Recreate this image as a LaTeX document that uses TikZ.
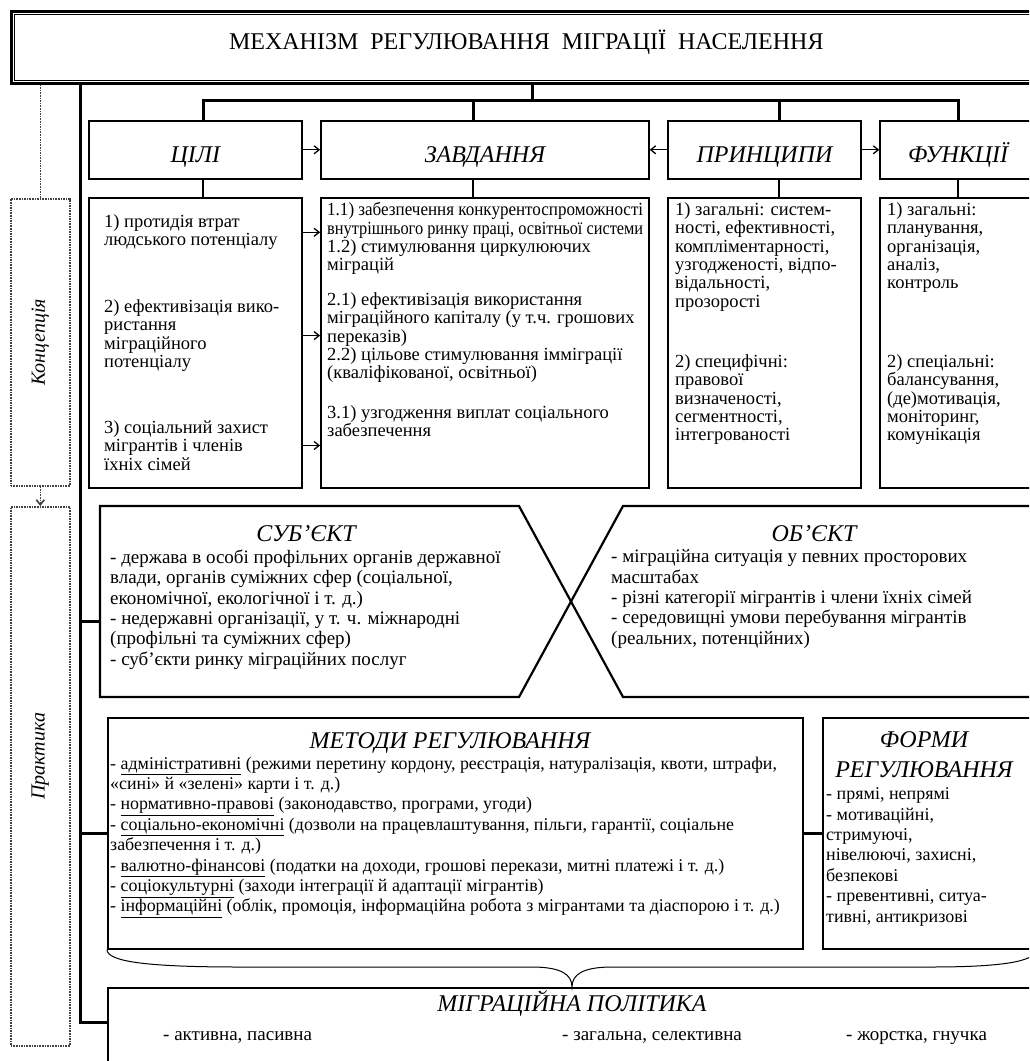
\documentclass[tikz,border=0pt]{standalone}
\usepackage{fontspec}
\setmainfont{Liberation Serif}
\usepackage{graphicx}
\usetikzlibrary{positioning,calc,arrows.meta}

\begin{document}
\begin{tikzpicture}[x=1pt, y=-1pt,
    box/.style={draw, rectangle, line width=1.6pt, inner sep=0pt, anchor=north west},
    headbox/.style={box, minimum height=58pt, font=\fontsize{24}{28}\selectfont\itshape, text height=26pt, text depth=0pt},
    listbox/.style={box, minimum height=290pt},
    itemtxt/.style={anchor=north west, inner sep=0pt, align=left, font=\fontsize{18.5}{18.3}\selectfont},
    bodytxt/.style={anchor=north west, inner sep=0pt, align=left, font=\fontsize{19}{20.4}\selectfont},
    ttl/.style={inner sep=0pt, font=\fontsize{24}{30}\selectfont\itshape},
    spine/.style={line width=3pt},
    link/.style={line width=1.6pt},
    shapeline/.style={line width=2.2pt},
    arr/.style={line width=1.3pt, -{Straight Barb[length=5pt,width=8pt]}},
    dotbox/.style={draw=black!75, densely dotted, line width=1.6pt, inner sep=0pt, anchor=north west},
    dotline/.style={draw=black!75, densely dotted, line width=1.6pt}]

\useasboundingbox (0,0) rectangle (1029,1061);
\clip (0,0) rectangle (1029,1061);

\node[box, minimum width=1030pt, minimum height=72pt, line width=2.6pt, font=\fontsize{24}{28}\selectfont, text height=17pt, text depth=13pt] (mech) at (10,10) {МЕХАНІЗМ\enskip РЕГУЛЮВАННЯ\enskip МІГРАЦІЇ\enskip НАСЕЛЕННЯ};
\draw[line width=1pt] ([xshift=4pt,yshift=4pt]mech.south west) rectangle ([xshift=-4pt,yshift=-4pt]mech.north east);

\node[headbox, minimum width=213pt] (goalshead) at (88,120) {ЦІЛІ};
\node[headbox, minimum width=328pt, right=17.5pt of goalshead] (taskhead) {ЗАВДАННЯ};
\node[headbox, minimum width=193pt, right=17.5pt of taskhead] (princhead) {ПРИНЦИПИ};
\node[headbox, minimum width=156pt, right=17.5pt of princhead] (funchead) {ФУНКЦІЇ};

\node[listbox, minimum width=213pt, below=17.5pt of goalshead] (goalsbox) {};
\node[listbox, minimum width=328pt, below=17.5pt of taskhead] (taskbox) {};
\node[listbox, minimum width=193pt, below=17.5pt of princhead] (princbox) {};
\node[listbox, minimum width=156pt, below=17.5pt of funchead] (funcbox) {};

\node[itemtxt] (goal1) at (104,214.5) {1) протидія втрат\\людського потенціалу};
\node[itemtxt] (goal2) at (104,299.5) {2) ефективізація вико-\\ристання\\міграційного\\потенціалу};
\node[itemtxt] (goal3) at (104,420.5) {3) соціальний захист\\мігрантів і членів\\їхніх сімей};

\node[itemtxt] (task1) at (327,202.5) {\resizebox{316pt}{\height}{1.1) забезпечення конкурентоспроможності}\\\resizebox{316pt}{\height}{внутрішнього ринку праці, освітньої системи}\\1.2) стимулювання циркулюючих\\міграцій};
\node[itemtxt] (task2) at (327,292.5) {2.1) ефективізація використання\\міграційного капіталу (у т.ч. грошових\\переказів)\\2.2) цільове стимулювання імміграції\\(кваліфікованої, освітньої)};
\node[itemtxt] (task3) at (327,405.5) {3.1) узгодження виплат соціального\\забезпечення};

\node[itemtxt] (princ1) at (675,202.5) {1) загальні: систем-\\ності, ефективності,\\компліментарності,\\узгодженості, відпо-\\відальності,\\прозорості};
\node[itemtxt] (princ2) at (675,354.5) {2) специфічні:\\правової\\визначеності,\\сегментності,\\інтегрованості};

\node[itemtxt] (func1) at (887,202.5) {1) загальні:\\планування,\\організація,\\аналіз,\\контроль};
\node[itemtxt] (func2) at (887,354.5) {2) спеціальні:\\балансування,\\(де)мотивація,\\моніторинг,\\комунікація};

\coordinate (branch) at (532,100);
\coordinate (b1) at (203,100);
\coordinate (b2) at (473,100);
\coordinate (b3) at (779,100);
\draw[spine] (mech.south -| branch) -- (branch);
\draw[spine] (b1 |- goalshead.north) -- (b1) -- (funchead.north |- b1) -- (funchead.north);
\draw[spine] (b2) -- (b2 |- taskhead.north);
\draw[spine] (b3) -- (b3 |- princhead.north);

\draw[link] (b1 |- goalshead.south) -- (b1 |- goalsbox.north);
\draw[link] (b2 |- taskhead.south) -- (b2 |- taskbox.north);
\draw[link] (b3 |- princhead.south) -- (b3 |- princbox.north);
\draw[link] (funchead) -- (funcbox);

\draw[arr] (goalshead) -- (taskhead);
\draw[arr] (princhead) -- (taskhead);
\draw[arr] (princhead) -- (funchead);
\foreach \g in {goal1,goal2,goal3}
    \draw[arr] (goalsbox.east |- \g) -- (taskbox.west |- \g);

\node[minimum width=419pt, minimum height=191pt, inner sep=0pt, outer sep=0pt, anchor=north west] (subj) at (100,506) {};
\node[minimum width=417pt, minimum height=191pt, inner sep=0pt, outer sep=0pt, anchor=north west] (obj) at (623,506) {};
\coordinate (xtip) at (571,601.5);
\draw[shapeline] (subj.north west) -- (subj.north east) -- (xtip) -- (subj.south east) -- (subj.south west) -- cycle;
\draw[shapeline] (obj.north east) -- (obj.north west) -- (xtip) -- (obj.south west) -- (obj.south east);

\node[ttl, anchor=base] (subjtitle) at (306,541) {СУБ’ЄКТ};
\node[bodytxt] (subjtext) at (110,549.5) {- держава в особі профільних органів державної\\влади, органів суміжних сфер (соціальної,\\економічної, екологічної і т. д.)\\- недержавні організації, у т. ч. міжнародні\\(профільні та суміжних сфер)\\- суб’єкти ринку міграційних послуг};
\node[ttl, anchor=base] (objtitle) at (814,541) {ОБ’ЄКТ};
\node[bodytxt] (objtext) at (611,549.5) {- міграційна ситуація у певних просторових\\масштабах\\- різні категорії мігрантів і члени їхніх сімей\\- середовищні умови перебування мігрантів\\(реальних, потенційних)};

\node[box, minimum width=695pt, minimum height=231pt] (methods) at (107,717) {};
\node[box, minimum width=213pt, minimum height=231pt] (forms) at (822,717) {};
\node[box, minimum width=930pt, minimum height=100pt] (policy) at (107,987) {};

\node[ttl, anchor=base] (methtitle) at (450,748) {МЕТОДИ РЕГУЛЮВАННЯ};
\node[bodytxt, font=\fontsize{17.9}{20.4}\selectfont] (methtext) at (110,756.5) {- \underline{адміністративні} (режими перетину кордону, реєстрація, натуралізація, квоти, штрафи,\\«сині» й «зелені» карти і т. д.)\\- \underline{нормативно-правові} (законодавство, програми, угоди)\\- \underline{соціально-економічні} (дозволи на працевлаштування, пільги, гарантії, соціальне\\забезпечення і т. д.)\\- \underline{валютно-фінансові} (податки на доходи, грошові перекази, митні платежі і т. д.)\\- \underline{соціокультурні} (заходи інтеграції й адаптації мігрантів)\\- \underline{інформаційні} (облік, промоція, інформаційна робота з мігрантами та діаспорою і т. д.)};

\node[ttl, anchor=north, align=center] (formtitle) at (924,731) {ФОРМИ\\РЕГУЛЮВАННЯ};
\node[bodytxt, font=\fontsize{18}{20.4}\selectfont] (formtext) at (826,787.5) {- прямі, непрямі\\- мотиваційні,\\стримуючі,\\нівелюючі, захисні,\\безпекові\\- превентивні, ситуа-\\тивні, антикризові};

\node[ttl, anchor=base] (poltitle) at (572,1011) {МІГРАЦІЙНА ПОЛІТИКА};
\node[bodytxt, anchor=base west] (pol1) at (163,1040) {- активна, пасивна};
\node[bodytxt, anchor=base west] (pol2) at (562,1040) {- загальна, селективна};
\node[bodytxt, anchor=base west] (pol3) at (846,1040) {- жорстка, гнучка};

\coordinate (spinetop) at (80,82);
\coordinate (spinebot) at (80,1022);
\coordinate (subjlink) at ([yshift=-20pt]subj.west);
\draw[spine] (spinetop) -- (spinebot) -- (spinebot -| policy.west);
\draw[spine] (spinetop |- subjlink) -- (subjlink);
\draw[spine] (spinetop |- methods.west) -- (methods.west);
\draw[spine] (methods.east) -- (forms.west);

\coordinate (bracetip) at (572,987);
\draw[line width=1pt] (methods.south west) .. controls (107,962) and (150,967) .. (240,967) -- (532,967) .. controls (562,967) and (572,975) .. (bracetip) .. controls (572,975) and (582,967) .. (612,967) -- (930,967) .. controls (1000,967) and (1035,962) .. (forms.south east);

\node[dotbox, minimum width=59pt, minimum height=287pt] (concept) at (10,198) {};
\node[dotbox, minimum width=59pt, minimum height=539pt] (practice) at (10,506) {};
\node[rotate=90, inner sep=0pt, font=\fontsize{20}{24}\selectfont\itshape] (conceptlbl) at (concept.center) {Концепція};
\node[rotate=90, inner sep=0pt, font=\fontsize{20}{24}\selectfont\itshape] (practicelbl) at ([yshift=20pt]practice.center) {Практика};
\draw[dotline] (mech.south -| concept.north) -- (concept.north);
\draw[dotline, -{Straight Barb[length=5pt,width=8pt]}] (concept.south) -- (practice.north);
\end{tikzpicture}
\end{document}
